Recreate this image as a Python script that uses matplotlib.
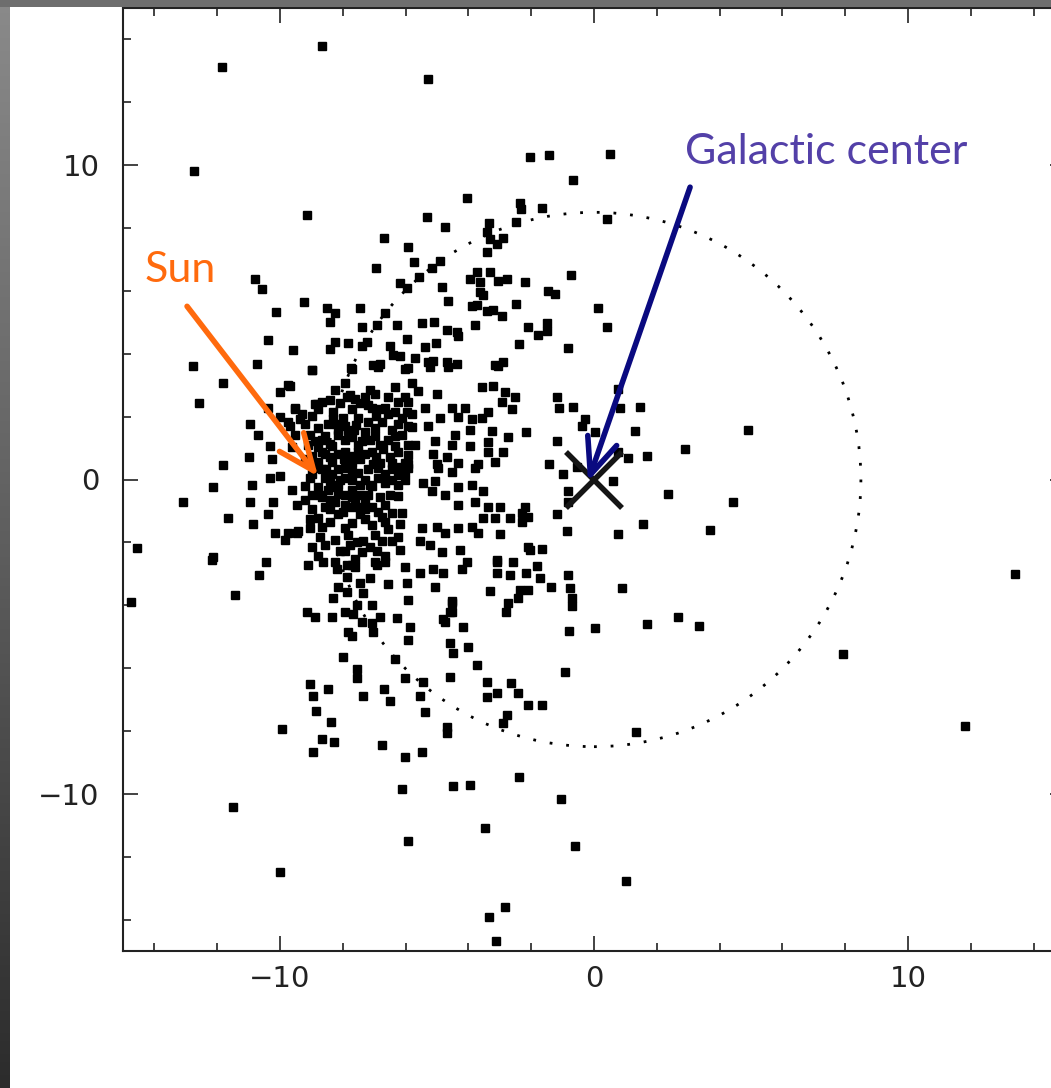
import numpy as np
import matplotlib.pyplot as plt
from matplotlib.colors import LinearSegmentedColormap
from matplotlib.patches import Circle, Rectangle
from matplotlib.ticker import MultipleLocator

# star positions in the galactic plane (kpc), grouped by area of the map
outer_stars = [
    (-8.66, 13.79), (-11.85, 13.12), (-5.29, 12.74), (-12.74, 9.81), (-2.04, 10.25),
    (-1.43, 10.32), (0.51, 10.35), (-0.67, 9.52), (-4.04, 8.95), (-9.14, 8.41),
    (-2.36, 8.79), (-2.32, 8.60), (-1.66, 8.63), (0.41, 8.28), (-5.32, 8.34),
    (-6.11, -9.86), (-4.49, -9.76), (-3.95, -9.73), (-2.39, -9.48), (-1.05, -10.17),
    (-3.47, -11.10), (-5.92, -11.51), (-0.61, -11.67), (1.02, -12.78), (-2.83, -13.61),
    (-3.34, -13.93), (-3.12, -14.69), (-11.50, -10.43), (-10.00, -12.50),
    (4.90, 1.59), (4.43, -0.73), (7.93, -5.56), (11.82, -7.85), (13.41, -3.02),
    (-14.55, -2.19), (-14.75, -3.91), (-12.58, 2.42), (-11.82, 3.08), (-13.09, -0.73),
    (-12.13, -0.25), (-11.82, 0.45), (-12.13, -2.45), (-11.66, -1.21),
]

upper_stars = [
    (-4.75, 8.03), (-6.69, 7.68), (-5.92, 7.39), (-6.94, 6.72), (-5.73, 6.91),
    (-4.90, 6.94), (-5.16, 6.72), (-5.57, 6.43), (-10.80, 6.37), (-10.57, 6.05),
    (-6.18, 6.24), (-5.96, 6.08), (-4.84, 6.11), (-4.65, 5.67), (-9.24, 5.64),
    (-10.13, 5.32), (-8.50, 5.45), (-8.25, 5.29), (-7.45, 5.45), (-8.41, 5.00),
    (-6.66, 5.29), (-7.39, 4.84), (-6.91, 4.90), (-6.27, 4.90), (-5.48, 4.97),
    (-5.10, 5.00), (-4.68, 4.75), (-4.36, 4.68), (-10.38, 4.43), (-9.59, 4.11),
    (-8.25, 4.36), (-8.41, 4.14), (-7.83, 4.33), (-7.39, 4.24), (-7.23, 4.39),
    (-6.50, 4.24), (-5.96, 4.46), (-5.38, 4.20), (-5.03, 4.33), (-6.40, 3.95),
    (-6.18, 3.92), (-5.70, 3.88), (-5.29, 3.73), (-5.13, 3.76), (-4.68, 3.73),
    (-4.36, 3.66), (-12.77, 3.60), (-10.73, 3.69), (-8.98, 3.47), (-7.04, 3.63),
    (-6.82, 3.66), (-5.92, 3.54), (-7.74, 3.54),
    (-3.34, 8.15), (-2.48, 8.18), (-3.41, 7.87), (-3.31, 7.64), (-2.90, 7.68),
    (-3.09, 7.48), (-3.41, 7.23), (-3.73, 6.59), (-3.31, 6.59), (-3.95, 6.37),
    (-3.63, 6.27), (-3.06, 6.30), (-2.77, 6.37), (-2.20, 6.27), (-0.73, 6.50),
    (-3.63, 5.95), (-3.54, 5.86), (-1.46, 5.99), (-1.24, 5.89), (-3.89, 5.51),
    (-3.73, 5.54), (-2.48, 5.57), (-3.41, 5.35), (-3.22, 5.38), (-2.93, 5.19),
    (-3.79, 4.90), (0.13, 5.45), (-4.33, 4.55), (-2.10, 4.84), (-1.50, 4.97),
    (-1.50, 4.71), (-1.78, 4.59), (0.41, 4.84), (-2.39, 4.30), (-0.83, 4.17),
    (-3.15, 3.63), (-2.90, 3.73),
]

inner_stars = [
    (-1.18, 2.64), (-1.11, 2.29), (-0.67, 2.32), (0.76, 2.87), (0.83, 2.29),
    (1.46, 2.32), (-0.29, 1.91), (-0.38, 1.69), (0.03, 1.50), (1.31, 1.53),
    (-2.17, 1.50), (-1.18, 1.24), (2.90, 0.96), (1.69, 0.76), (1.08, 0.67),
    (0.76, 0.86), (-1.43, 0.48), (-0.54, 0.41), (-0.99, 0.16), (0.61, -0.06),
    (-0.83, -0.38), (2.36, -0.45), (-0.83, -0.73), (-1.18, -1.11), (1.56, -1.43),
    (-0.86, -1.65), (0.76, -1.72), (3.69, -1.62), (-2.04, -2.23), (-1.66, -2.20),
    (-2.29, -1.05), (-2.10, -1.18), (-2.68, -1.21),
]

lower_stars = [
    (-4.04, -2.64), (-3.09, -2.64), (-2.58, -2.64), (-1.82, -2.74), (-4.20, -2.86),
    (-3.09, -2.96), (-2.68, -3.03), (-2.17, -2.99), (-1.72, -3.12), (-0.83, -3.03),
    (-1.37, -3.41), (-0.76, -3.44), (0.89, -3.44), (-3.31, -3.54), (-2.36, -3.50),
    (-2.10, -3.50), (-2.42, -3.76), (-2.74, -3.92), (-0.70, -3.76), (-0.70, -4.04),
    (-2.80, -4.20), (-4.52, -3.88), (-4.59, -4.20), (-4.81, -4.45), (-4.17, -4.68),
    (-0.80, -4.81), (0.03, -4.74), (1.69, -4.59), (2.68, -4.36), (3.34, -4.65),
    (-4.59, -5.19), (-4.49, -5.51), (-4.01, -5.32), (-3.73, -5.89), (-0.92, -6.11),
    (-4.59, -6.27), (-3.41, -6.43), (-2.64, -6.46), (-3.09, -6.78), (-3.41, -6.91),
    (-2.42, -6.78), (-2.10, -7.17), (-1.66, -7.17), (-2.77, -7.48), (-2.90, -7.74),
    (-4.68, -7.87), (-4.68, -8.06), (1.34, -8.03),
    (-12.17, -2.55), (-10.45, -2.64), (-10.67, -3.03), (-11.43, -3.66), (-9.11, -2.71),
    (-8.63, -2.64), (-8.18, -2.86), (-7.87, -2.71), (-7.61, -2.77), (-6.91, -2.71),
    (-6.66, -2.64), (-6.02, -2.77), (-5.54, -2.96), (-5.13, -2.86), (-4.81, -2.96),
    (-7.87, -3.09), (-7.45, -3.28), (-7.13, -3.12), (-6.56, -3.34), (-5.96, -3.28),
    (-5.06, -3.41), (-8.15, -3.41), (-7.87, -3.57), (-8.31, -3.76), (-7.36, -3.60),
    (-5.92, -3.82), (-7.07, -3.98), (-7.55, -3.98), (-9.14, -4.20), (-8.89, -4.39),
    (-8.34, -4.36), (-7.93, -4.23), (-7.68, -4.29), (-7.39, -4.52), (-7.07, -4.55),
    (-6.82, -4.36), (-6.27, -4.42), (-5.86, -4.68), (-4.52, -3.92), (-4.52, -4.23),
    (-4.75, -4.52), (-7.83, -4.84), (-7.71, -4.99), (-7.04, -4.86), (-5.92, -5.12),
    (-7.99, -5.66), (-6.34, -5.72), (-7.55, -6.04), (-7.55, -6.30), (-6.02, -6.30),
    (-5.45, -6.43), (-9.04, -6.52), (-8.47, -6.68), (-8.95, -6.90), (-7.36, -6.90),
    (-6.69, -6.68), (-6.50, -7.06), (-5.54, -6.90), (-8.85, -7.38), (-8.38, -7.73),
    (-5.38, -7.41), (-9.94, -7.95), (-8.66, -8.27), (-8.28, -8.36), (-8.95, -8.68),
    (-6.75, -8.46), (-5.48, -8.68), (-6.02, -8.84),
]

solar_stars = [
    (-10.96, 1.78), (-10.70, 1.40), (-10.32, 1.05), (-10.99, 0.73), (-10.25, 0.64),
    (-10.89, -0.16), (-10.96, -0.73), (-10.32, 0.06), (-10.00, 0.10), (-10.22, -0.70),
    (-10.86, -1.43), (-10.38, -1.11), (-10.16, -1.69), (-9.84, -1.91), (-9.46, -1.69),
    (-10.00, 2.77), (-9.68, 2.96), (-10.38, 2.29), (-10.00, 2.00), (-9.68, 1.69),
    (-9.52, 2.23), (-9.36, 1.91), (-8.82, 2.39), (-8.31, 2.16),
    (-8.98, 3.47), (-7.71, 3.53), (-6.88, 3.59), (-6.02, 3.53), (-9.75, 3.02),
    (-8.25, 2.86), (-7.93, 3.08), (-7.87, 2.64), (-7.13, 2.86), (-7.29, 2.61),
    (-6.34, 2.93), (-6.56, 2.61), (-6.02, 2.64), (-9.52, 2.29), (-8.89, 2.39),
    (-9.30, 2.07), (-7.71, 2.23), (-7.52, 1.97), (-7.07, 2.29), (-6.66, 2.29),
    (-6.34, 2.16), (-5.96, 2.16), (-9.75, 1.84), (-8.47, 1.75), (-7.93, 1.69),
    (-7.20, 1.84), (-6.75, 1.84), (-6.24, 1.75), (-9.52, 1.43), (-8.57, 1.37),
    (-8.15, 1.43), (-7.71, 1.34), (-7.29, 1.50), (-6.97, 1.37), (-6.56, 1.27),
    (-6.11, 1.43), (-5.92, 1.11), (-9.62, 1.02), (-8.79, 1.02), (-8.34, 1.05),
    (-7.93, 0.89), (-7.52, 1.11), (-7.07, 0.86), (-6.72, 0.96), (-6.24, 0.86),
    (-8.79, 0.57), (-8.34, 0.57), (-7.87, 0.57), (-7.45, 0.64), (-7.04, 0.48),
    (-6.43, 0.54), (-6.02, 0.54),
    (-8.66, 0.32), (-8.34, 0.16), (-7.93, 0.38), (-7.52, 0.22), (-6.88, 0.38),
    (-6.43, 0.32), (-6.02, 0.25), (-9.62, -0.32), (-9.20, -0.22), (-8.79, -0.25),
    (-8.15, -0.16), (-7.71, -0.32), (-7.07, -0.22), (-6.66, -0.10), (-6.24, -0.16),
    (-9.46, -0.80), (-8.66, -0.57), (-8.25, -0.70), (-7.71, -0.89), (-7.29, -0.70),
    (-7.07, -0.89), (-6.66, -0.80), (-6.11, -1.05), (-8.79, -1.21), (-8.15, -1.11),
    (-7.71, -1.37), (-7.29, -1.27), (-6.75, -1.18), (-6.18, -1.43), (-9.75, -1.69),
    (-9.43, -1.65), (-8.66, -1.50), (-8.25, -1.91), (-7.55, -2.00), (-7.36, -1.97),
    (-6.75, -1.97), (-6.43, -1.97), (-8.98, -2.16), (-7.93, -2.29), (-7.39, -2.32),
    (-6.91, -2.29), (-8.25, -2.61), (-7.71, -2.71), (-6.97, -2.64),
    (-8.57, 0.80), (-8.15, 0.80), (-7.71, 0.76), (-7.29, 0.80), (-8.57, 0.06),
    (-8.09, 0.00), (-7.71, 0.00), (-7.29, 0.00), (-8.47, -0.32), (-7.93, -0.48),
    (-7.45, -0.48), (-9.04, 0.06), (-8.98, -0.48), (-8.15, 1.59), (-7.64, 1.59),
    (-8.31, 1.91), (-8.66, 1.27), (-9.04, 1.43), (-9.20, 0.64), (-6.88, 0.06),
    (-6.50, -0.48), (-8.41, -0.95), (-7.93, -0.80), (-7.45, -1.11), (-9.04, -1.27),
    (-6.97, 2.71), (-6.82, 2.23), (-7.61, 2.55),
]

core_stars = [
    (-8.66, 2.45), (-8.09, 2.42), (-7.45, 2.42), (-6.24, 2.45),
    (-8.98, 2.03), (-7.99, 1.97), (-6.94, 2.03), (-6.11, 1.97),
    (-8.79, 1.65), (-8.22, 1.78), (-7.58, 1.72), (-6.97, 1.65), (-6.43, 1.59), (-5.92, 1.69),
    (-8.89, 1.21), (-8.41, 1.14), (-7.93, 1.27), (-7.39, 1.21), (-6.82, 1.11), (-6.34, 1.08),
    (-8.98, 0.76), (-8.41, 0.70), (-7.96, 0.64), (-7.52, 0.89), (-6.94, 0.70), (-6.50, 0.73),
    (-5.92, 0.79), (-8.89, 0.38), (-8.15, 0.32), (-7.71, 0.25), (-7.20, 0.32), (-6.66, 0.19),
    (-6.24, 0.13), (-8.41, -0.06), (-7.93, 0.06), (-7.45, -0.16), (-6.43, 0.00), (-6.02, 0.00),
    (-8.73, -0.48), (-8.15, -0.45), (-7.71, -0.57), (-7.20, -0.48), (-6.82, -0.57), (-6.24, -0.54),
    (-8.98, -0.95), (-8.57, -0.89), (-7.99, -1.02), (-7.45, -0.89), (-6.88, -1.02), (-6.43, -1.05),
    (-8.41, -1.34), (-7.93, -1.53), (-7.07, -1.46), (-6.56, -1.59), (-9.04, -1.53),
    (-8.57, -2.07), (-7.77, -2.07), (-7.13, -2.16), (-6.18, -2.23), (-8.79, -2.42),
    (-8.79, 2.23), (-8.41, 2.54), (-7.77, 2.70), (-7.20, 2.38), (-6.56, 2.07),
    (-9.20, 1.75), (-7.83, 1.53), (-7.13, 1.27), (-6.34, 1.37), (-9.11, 1.11),
    (-8.66, 0.89), (-7.71, 0.54), (-6.82, 0.54), (-6.18, 0.41), (-8.98, 0.16),
    (-8.54, 0.32), (-7.13, -0.16), (-8.25, -0.25), (-7.61, -0.70), (-8.41, -0.64),
    (-7.29, -0.95), (-6.66, -1.34), (-8.73, -1.84), (-7.83, -1.75), (-6.97, -1.75),
    (-6.24, -1.84), (-8.09, -2.29), (-7.61, -2.54), (-6.66, -2.42), (-9.20, -0.64),
]

middle_stars = [
    (-5.22, 3.57), (-4.65, 3.57), (-3.06, 3.60), (-5.80, 3.08), (-5.61, 2.80),
    (-5.00, 2.71), (-3.57, 2.93), (-3.22, 2.96), (-2.83, 2.77), (-2.52, 2.64),
    (-2.93, 2.45), (-2.61, 2.23), (-5.92, 2.48), (-5.38, 2.29), (-4.52, 2.29),
    (-4.11, 2.29), (-4.33, 2.00), (-4.90, 1.97), (-3.89, 1.91), (-3.38, 2.16),
    (-3.57, 1.97), (-5.80, 2.07), (-5.80, 1.66), (-5.29, 1.69), (-3.95, 1.59),
    (-3.25, 1.53), (-2.74, 1.34), (-4.43, 1.43), (-5.06, 1.21), (-5.70, 1.11),
    (-4.52, 1.11), (-3.95, 1.05), (-3.38, 1.18), (-3.38, 0.86), (-2.90, 0.86),
    (-5.13, 0.80), (-4.68, 0.73), (-5.92, 0.48), (-5.00, 0.48), (-4.33, 0.54),
    (-3.69, 0.48), (-3.15, 0.57),
    (-5.92, 0.38), (-4.97, 0.38), (-4.52, 0.25), (-3.79, 0.38), (-5.45, -0.10),
    (-5.06, -0.06), (-5.16, -0.38), (-4.75, -0.48), (-4.33, -0.25), (-3.89, -0.16),
    (-3.54, -0.38), (-4.33, -0.80), (-3.79, -0.73), (-3.38, -0.86), (-2.99, -0.89),
    (-3.54, -1.21), (-3.15, -1.21), (-2.29, -1.34), (-2.20, -0.89), (-5.48, -1.53),
    (-5.00, -1.50), (-4.75, -1.69), (-4.33, -1.53), (-3.89, -1.50), (-3.69, -1.69),
    (-2.99, -1.72), (-5.54, -1.97), (-5.22, -2.07), (-4.84, -2.32), (-4.27, -2.23),
    (-2.10, -2.16), (-3.09, -2.55),
]

star_groups = [outer_stars, upper_stars, inner_stars, lower_stars,
               solar_stars, core_stars, middle_stars]

sun_pos = (-8.79, 0.10)
sun_label_from = (-12.96, 5.51)
gc_pos = (-0.19, -0.06)
gc_label_from = (3.06, 9.30)
solar_radius = 8.5

fig = plt.figure(figsize=(10.51, 10.88), dpi=100)
fig.patch.set_facecolor("white")

# dark slide edge on the left and along the top
edge = LinearSegmentedColormap.from_list("edge", ["#8a8a8a", "#5e5e5e", "#2c2c2c"])
edge_ax = fig.add_axes([0, 0, 10 / 1051, 1])
edge_ax.imshow(np.linspace(0, 1, 256)[:, None], cmap=edge, aspect="auto")
edge_ax.axis("off")
fig.add_artist(Rectangle((0, 1 - 7 / 1088), 1, 7 / 1088,
                         transform=fig.transFigure, color="#6e6e6e", lw=0))

ax = fig.add_axes([123 / 1051, 137 / 1088, 942 / 1051, 943 / 1088])
ax.set_xlim(-15, 15)
ax.set_ylim(-15, 15)

# small rounded squares, like the plotter's dot glyph
for group in star_groups:
    gx, gy = zip(*group)
    ax.plot(gx, gy, linestyle="none", marker="s", ms=6.3, mew=1.0,
            mec="black", mfc="black", zorder=3)

ax.add_patch(Circle((0, 0), solar_radius, fill=False, color="black",
                    lw=2.0, linestyle=(0, (1, 5)), zorder=2))

ax.plot([0], [0], marker="x", ms=40, mew=4.0, color="#151515", zorder=4)

arrow_style = "->,head_length=1.3,head_width=0.55"
ax.annotate("", xy=sun_pos, xytext=sun_label_from,
            arrowprops=dict(arrowstyle=arrow_style, mutation_scale=20, lw=4.0,
                            color="#ff6a0d", shrinkA=0, shrinkB=0),
            zorder=5)
ax.annotate("", xy=gc_pos, xytext=gc_label_from,
            arrowprops=dict(arrowstyle=arrow_style, mutation_scale=20, lw=4.0,
                            color="#0a0a80", shrinkA=0, shrinkB=0),
            zorder=5)

ax.text(-14.30, 6.68, "Sun", color="#ff6a0d", fontsize=31, family="Lato",
        ha="left", va="center", zorder=6)
ax.text(2.9, 10.43, "Galactic center", color="#5340a8", fontsize=31,
        family="Lato", ha="left", va="center", zorder=6)

ax.xaxis.set_major_locator(MultipleLocator(10))
ax.yaxis.set_major_locator(MultipleLocator(10))
ax.xaxis.set_minor_locator(MultipleLocator(2))
ax.yaxis.set_minor_locator(MultipleLocator(2))
ax.tick_params(which="both", direction="in", top=True, right=True,
               width=1.2, color="#222222")
ax.tick_params(which="major", length=11)
ax.tick_params(which="minor", length=6)
ax.tick_params(axis="x", which="major", pad=10, labelsize=21, labelcolor="#222222")
ax.tick_params(axis="y", which="major", pad=17, labelsize=21, labelcolor="#222222")
for side in ax.spines.values():
    side.set_linewidth(1.5)
    side.set_color("#222222")

fig.savefig("out.png", dpi=100)
